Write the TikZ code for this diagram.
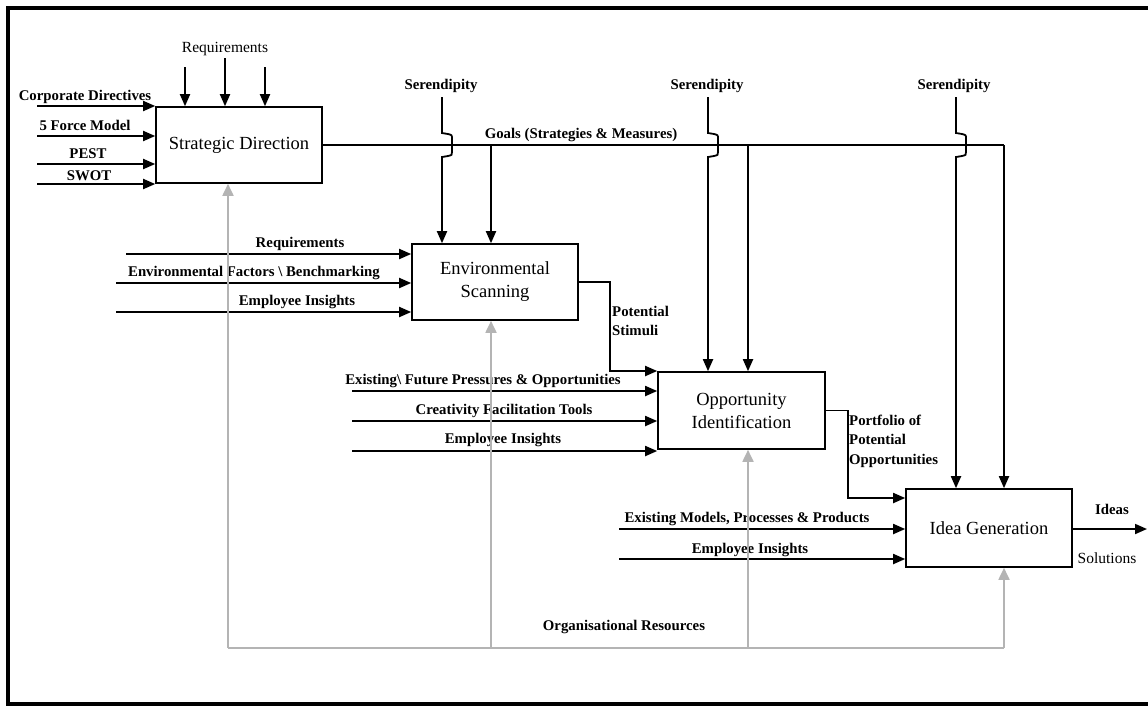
\documentclass[tikz,border=0pt]{standalone}
\usepackage{fontspec}
\setmainfont{Liberation Serif}
\usetikzlibrary{arrows.meta}
\definecolor{resgray}{HTML}{B4B4B4}
\tikzset{
  box/.style={draw, line width=1.6pt, fill=white, inner sep=2pt, align=center,
    font=\fontsize{18.5}{23}\selectfont},
  lbl/.style={font=\bfseries\fontsize{14.8}{19.5}\selectfont, inner sep=0pt},
  rlbl/.style={font=\fontsize{15.5}{19.5}\selectfont, inner sep=0pt},
  arr/.style={line width=1.8pt, -{Triangle[length=12pt,width=10pt]}},
  ln/.style={line width=1.8pt},
  garr/.style={line width=1.8pt, draw=resgray, -{Triangle[length=12pt,width=11pt]}, color=resgray},
  gln/.style={line width=1.8pt, draw=resgray},
}
\begin{document}
\begin{tikzpicture}[x=1pt,y=-1pt]
\useasboundingbox (0,0) rectangle (1148,705);
\begin{scope}
\clip (0,0) rectangle (1148,705);
\draw[line width=4pt] (8,8) rectangle (1160,704);
\end{scope}

% boxes
\node[box, minimum width=166pt, minimum height=76pt] (sd) at (239,145) {Strategic Direction};
\node[box, minimum width=166pt, minimum height=76pt] (es) at (495,282) {Environmental\\Scanning};
\node[box, minimum width=167pt, minimum height=77pt] (oi) at (741.5,410.5) {Opportunity\\Identification};
\node[box, minimum width=166pt, minimum height=78pt] (ig) at (989,528) {Idea Generation};

% Strategic Direction inputs
\coordinate (cd) at (37,106);
\coordinate (fm) at (37,136);
\coordinate (pe) at (37,164);
\coordinate (sw) at (37,184);
\draw[arr] (cd) -- (cd -| sd.west);
\draw[arr] (fm) -- (fm -| sd.west);
\draw[arr] (pe) -- (pe -| sd.west);
\draw[arr] (sw) -- (sw -| sd.west);
\node[lbl] (tcd) at (85,97) {Corporate Directives};
\node[lbl] (tfm) at (85,125) {5 Force Model};
\node[lbl] (tpe) at (88,154) {PEST};
\node[lbl] (tsw) at (89,176) {SWOT};

% Requirements (top)
\node[rlbl] (treq) at (225,49) {Requirements};
\coordinate (r1) at (185,67);
\coordinate (r2) at (225,58);
\coordinate (r3) at (265,67);
\draw[arr] (r1) -- (r1 |- sd.north);
\draw[arr] (r2) -- (r2 |- sd.north);
\draw[arr] (r3) -- (r3 |- sd.north);

% Goals line
\coordinate (g3) at (1004,145);
\draw[ln] (sd.east) -- (g3);
\draw[arr] (g3) -- (g3 |- ig.north);
\coordinate (g1) at (491,145);
\coordinate (g2) at (748,145);
\draw[arr] (g1) -- (g1 |- es.north);
\draw[arr] (g2) -- (g2 |- oi.north);
\node[lbl] (tgoals) at (581,135) {Goals (Strategies \& Measures)};

% Serendipity
\node[lbl] (ts1) at (441,86) {Serendipity};
\node[lbl] (ts2) at (707,86) {Serendipity};
\node[lbl] (ts3) at (954,86) {Serendipity};
\foreach \sx/\tgt in {442/es, 708/oi, 956/ig}{
  \draw[arr] (\sx,97) -- (\sx,133) -- (\sx+6,134) .. controls (\sx+10,135) .. (\sx+10,139)
     -- (\sx+10,152) .. controls (\sx+10,155) .. (\sx+6,156) -- (\sx,157) -- (\sx,0 |- \tgt.north);
}

% Environmental Scanning inputs
\coordinate (e1) at (126,254);
\coordinate (e2) at (116,283);
\coordinate (e3) at (116,312);
\draw[arr] (e1) -- (e1 -| es.west);
\draw[arr] (e2) -- (e2 -| es.west);
\draw[arr] (e3) -- (e3 -| es.west);
\node[lbl] (te1) at (300,244) {Requirements};
\node[lbl] (te2) at (254,273) {Environmental Factors \textbackslash\ Benchmarking};
\node[lbl] (te3) at (297,302) {Employee Insights};

% Potential stimuli
\coordinate (ps) at (610,371);
\draw[arr] (es.east) -| (ps) -- (ps -| oi.west);
\node[lbl, align=left, anchor=west] (tps) at (612,321) {Potential\\Stimuli};

% Opportunity Identification inputs
\coordinate (o1) at (352,391);
\coordinate (o2) at (352,421);
\coordinate (o3) at (352,451);
\draw[arr] (o1) -- (o1 -| oi.west);
\draw[arr] (o2) -- (o2 -| oi.west);
\draw[arr] (o3) -- (o3 -| oi.west);
\node[lbl] (to1) at (483,381) {Existing\textbackslash\ Future Pressures \& Opportunities};
\node[lbl] (to2) at (504,411) {Creativity Facilitation Tools};
\node[lbl] (to3) at (503,440) {Employee Insights};

% Portfolio
\coordinate (pp) at (848,498);
\draw[arr] (oi.east) -| (pp) -- (pp -| ig.west);
\node[lbl, align=left, anchor=west] (tpp) at (849,441) {Portfolio of\\Potential\\Opportunities};

% Idea Generation inputs
\coordinate (i1) at (619,529);
\coordinate (i2) at (619,559);
\draw[arr] (i1) -- (i1 -| ig.west);
\draw[arr] (i2) -- (i2 -| ig.west);
\node[lbl] (ti1) at (747,519) {Existing Models, Processes \& Products};
\node[lbl] (ti2) at (750,550) {Employee Insights};

% Output
\coordinate (out) at (1147,529);
\draw[arr] (ig.east |- out) -- (out);
\node[lbl] (tideas) at (1112,509) {Ideas};
\node[rlbl] (tsol) at (1107,558) {Solutions};

% Organisational resources
\coordinate (b1) at (228,648);
\coordinate (b2) at (491,648);
\coordinate (b3) at (748,648);
\coordinate (b4) at (1004,648);
\draw[gln] (b1) -- (b4);
\draw[garr] (b1) -- (b1 |- sd.south);
\draw[garr] (b2) -- (b2 |- es.south);
\draw[garr] (b3) -- (b3 |- oi.south);
\draw[garr] (b4) -- (b4 |- ig.south);
\node[lbl] (tres) at (624,627) {Organisational Resources};
\end{tikzpicture}
\end{document}
